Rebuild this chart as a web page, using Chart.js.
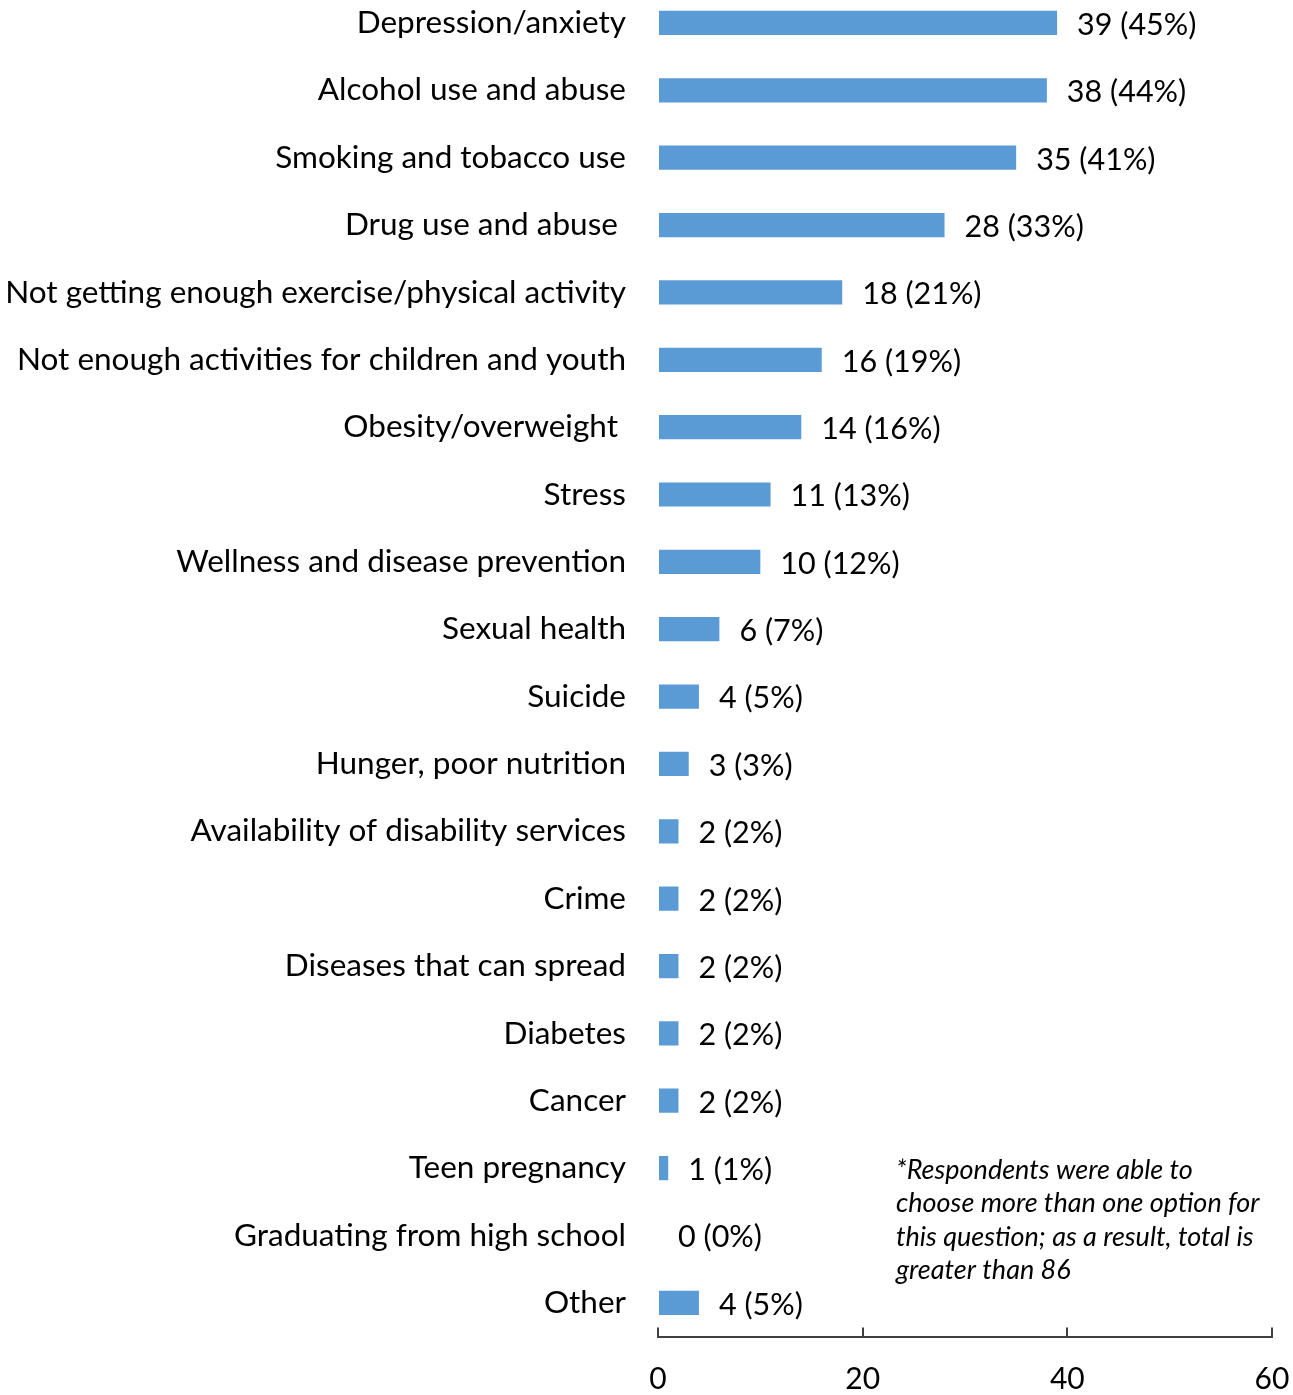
<!DOCTYPE html>
<html>
<head>
<meta charset="utf-8">
<title>Health issues</title>
<script src="https://cdn.jsdelivr.net/npm/chart.js@4.4.1/dist/chart.umd.min.js"></script>
<style>
  html, body { margin: 0; padding: 0; background: #fff; overflow: hidden; }
  #page { position: relative; width: 1293px; height: 1395px; overflow: hidden; }
  /* canvas runs a little above the page so the first row can sit near the top edge */
  #wrap { position: absolute; left: 0; top: -40px; width: 1293px; height: 1435px; }
</style>
</head>
<body>
<div id="page"><div id="wrap"><canvas id="issuesChart"></canvas></div></div>
<script>
// categories and counts, top to bottom
const issues = [
  'Depression/anxiety',
  'Alcohol use and abuse',
  'Smoking and tobacco use',
  'Drug use and abuse ',
  'Not getting enough exercise/physical activity',
  'Not enough activities for children and youth',
  'Obesity/overweight ',
  'Stress',
  'Wellness and disease prevention',
  'Sexual health',
  'Suicide',
  'Hunger, poor nutrition',
  'Availability of disability services',
  'Crime',
  'Diseases that can spread',
  'Diabetes',
  'Cancer',
  'Teen pregnancy',
  'Graduating from high school',
  'Other'
];
const counts = [39, 38, 35, 28, 18, 16, 14, 11, 10, 6, 4, 3, 2, 2, 2, 2, 2, 1, 0, 4];
const percents = [45, 44, 41, 33, 21, 19, 16, 13, 12, 7, 5, 3, 2, 2, 2, 2, 2, 1, 0, 5];
const xTicks = [0, 20, 40, 60];
const noteLines = [
  '*Respondents were able to',
  'choose more than one option for',
  'this question; as a result, total is',
  'greater than 86'
];

const FONT = 'Lato, "Open Sans", sans-serif';
const SHIFT = 40; // how far the canvas starts above the page

// "n (p%)" after each bar
const valueLabels = {
  id: 'valueLabels',
  afterDatasetsDraw(chart) {
    const ctx = chart.ctx;
    const meta = chart.getDatasetMeta(0);
    ctx.save();
    ctx.font = '30.5px ' + FONT;
    ctx.fillStyle = '#000';
    ctx.textAlign = 'left';
    ctx.textBaseline = 'middle';
    meta.data.forEach((bar, i) => {
      ctx.fillText(counts[i] + ' (' + percents[i] + '%)', bar.x + 20, bar.y + 2);
    });
    ctx.restore();
  }
};

// footnote in the lower right
const footnote = {
  id: 'footnote',
  afterDraw(chart) {
    const ctx = chart.ctx;
    ctx.save();
    ctx.font = 'italic 27px ' + FONT;
    ctx.fillStyle = '#000';
    ctx.textAlign = 'left';
    ctx.textBaseline = 'middle';
    noteLines.forEach((line, i) => {
      ctx.fillText(line, 896, SHIFT + 1170 + i * 33.5);
    });
    ctx.restore();
  }
};

new Chart(document.getElementById('issuesChart'), {
  type: 'bar',
  data: {
    labels: issues,
    datasets: [{
      data: counts,
      backgroundColor: '#5B9BD5',
      borderWidth: 0,
      categoryPercentage: 1,
      barPercentage: 0.36
    }]
  },
  options: {
    indexAxis: 'y',
    responsive: true,
    maintainAspectRatio: false,
    animation: false,
    layout: { padding: { top: SHIFT - 10.7, right: 21, bottom: 0, left: 0 } },
    plugins: {
      legend: { display: false },
      tooltip: { enabled: false }
    },
    scales: {
      x: {
        min: 0,
        max: 60,
        afterBuildTicks(scale) {
          scale.ticks = xTicks.map(v => ({ value: v }));
        },
        afterFit(scale) {
          scale.height = 58.5;
          scale.paddingLeft = 0;
          scale.paddingRight = 0;
        },
        border: { display: true, color: '#404040', width: 2 },
        grid: {
          display: true,
          drawOnChartArea: false,
          drawTicks: true,
          tickLength: -9,
          color: '#404040',
          lineWidth: 2
        },
        ticks: {
          padding: 34,
          color: '#000',
          font: { family: FONT, size: 30 }
        }
      },
      y: {
        afterFit(scale) {
          scale.width = 658;
          scale.paddingTop = 0;
          scale.paddingBottom = 0;
        },
        border: { display: false },
        grid: { display: false, drawTicks: false },
        ticks: {
          autoSkip: false,
          padding: 32,
          color: '#000',
          font: { family: FONT, size: 31.5 }
        }
      }
    }
  },
  plugins: [valueLabels, footnote]
});
</script>
</body>
</html>
